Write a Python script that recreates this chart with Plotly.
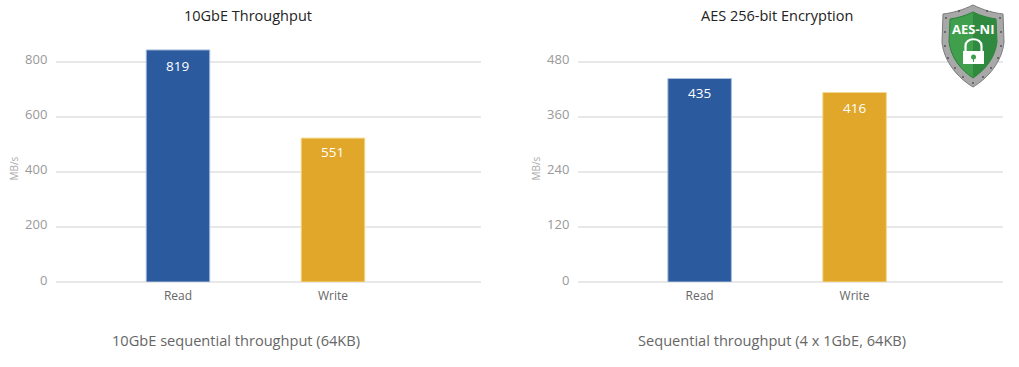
import plotly.graph_objects as go

W, H = 1019, 367
categories = ["Read", "Write"]
# Bar heights as drawn in the picture (the printed labels differ from the drawn heights)
tp_heights = [842, 522]
tp_labels = ["819", "551"]
aes_heights = [443, 412.5]
aes_labels = ["435", "416"]
tp_ticks = [0, 200, 400, 600, 800]
aes_ticks = [0, 120, 240, 360, 480]
colors = ["#2b5a9e", "#e0a72a"]
edges = ["#a9bfdc", "#f3d98f"]
FONT = "Open Sans"


def fx(x):
    return x / W


def fy(y):
    return 1 - y / H


def path(cmds):
    out = []
    for c in cmds:
        if isinstance(c, str):
            out.append(c)
        else:
            out.append(f"{fx(c[0]):.5f},{fy(c[1]):.5f}")
    return " ".join(out)


fig = go.Figure()
fig.add_trace(go.Bar(x=categories, y=tp_heights, marker=dict(color=colors, line=dict(color=edges, width=1)),
                     width=0.41, xaxis="x", yaxis="y", hoverinfo="skip"))
fig.add_trace(go.Bar(x=categories, y=aes_heights, marker=dict(color=colors, line=dict(color=edges, width=1)),
                     width=0.41, xaxis="x2", yaxis="y2", hoverinfo="skip"))

ann = []
for xa, ya, hs, ls, shifts in [("x", "y", tp_heights, tp_labels, [-16, -14]),
                               ("x2", "y2", aes_heights, aes_labels, [-14, -15])]:
    for c, h, l, s in zip(categories, hs, ls, shifts):
        ann.append(dict(x=c, y=h, xref=xa, yref=ya, text=l, showarrow=False, yshift=s,
                        font=dict(family=FONT, size=13.5, color="white")))


def txt(x, y, t, size, color, angle=0, family=FONT, weight=None):
    f = dict(family=family, size=size, color=color)
    if weight:
        f["weight"] = weight
    return dict(x=fx(x), y=fy(y), xref="paper", yref="paper", text=t, showarrow=False,
                xanchor="center", yanchor="middle", font=f, textangle=angle)


ann += [
    txt(247.5, 15, "10GbE Throughput", 14.5, "#222222"),
    txt(776.5, 15, "AES 256-bit Encryption", 14.5, "#222222"),
    txt(236, 340, "10GbE sequential throughput (64KB)", 14.6, "#666666"),
    txt(771.5, 340, "Sequential throughput (4 x 1GbE, 64KB)", 14.6, "#666666"),
    txt(14, 168.5, "MB/s", 10, "#aaaaaa", -90),
    txt(536, 168.5, "MB/s", 10, "#aaaaaa", -90),
    txt(973, 29, "AES-NI", 13, "white", weight="bold"),
]

# AES-NI badge
shapes = []
outer_path = path(["M", (973, 5), "C", (963, 10), (952, 13), (943, 14), "L", (942, 42), "C", (944, 62), (958, 78), (973, 87),
                   "C", (988, 78), (1002, 62), (1004, 42), "L", (1003, 14), "C", (994, 13), (983, 10), (973, 5), "Z"])
inner_path = path(["M", (973, 12), "C", (965, 16), (957, 18), (950, 19), "L", (949, 42), "C", (951, 58), (961, 70), (973, 78),
                   "C", (985, 70), (995, 58), (997, 42), "L", (996, 19), "C", (989, 18), (981, 16), (973, 12), "Z"])
right_path = path(["M", (973, 12), "C", (981, 16), (989, 18), (996, 19), "L", (997, 42), "C", (995, 58), (985, 70), (973, 78), "Z"])
shapes.append(dict(type="path", xref="paper", yref="paper", path=outer_path, fillcolor="#a8a8a8",
                   line=dict(color="#7a7a7a", width=1)))
shapes.append(dict(type="path", xref="paper", yref="paper", path=inner_path, fillcolor="#3f9f4c",
                   line=dict(color="#2f7f3c", width=1)))
shapes.append(dict(type="path", xref="paper", yref="paper", path=right_path, fillcolor="#2f8a40",
                   line=dict(width=0)))
rivets = [(946, 18), (945, 32), (945, 46), (948, 58), (955, 68), (963, 77), (973, 83), (983, 77), (991, 68),
          (998, 58), (1001, 46), (1001, 32), (1000, 18), (959, 11), (987, 11)]
for rx, ry in rivets:
    shapes.append(dict(type="circle", xref="paper", yref="paper", x0=fx(rx - 1), x1=fx(rx + 1), y0=fy(ry + 1), y1=fy(ry - 1),
                       fillcolor="#555555", line=dict(width=0)))
# lock
shapes.append(dict(type="path", xref="paper", yref="paper",
                   path=path(["M", (965.5, 51), "L", (965.5, 46), "C", (965.5, 37), (981.5, 37), (981.5, 46), "L", (981.5, 51)]),
                   line=dict(color="white", width=2.2), fillcolor="rgba(0,0,0,0)"))
shapes.append(dict(type="rect", xref="paper", yref="paper", x0=fx(963), x1=fx(984), y0=fy(64), y1=fy(51),
                   fillcolor="white", line=dict(width=0)))
shapes.append(dict(type="circle", xref="paper", yref="paper", x0=fx(971), x1=fx(976), y0=fy(59.5), y1=fy(54.5),
                   fillcolor="#3f9f4c", line=dict(width=0)))
shapes.append(dict(type="rect", xref="paper", yref="paper", x0=fx(973), x1=fx(974), y0=fy(62), y1=fy(58),
                   fillcolor="#3f9f4c", line=dict(width=0)))


def yaxis(ticks, top, anchor):
    return dict(domain=[fy(282), fy(40)], range=[0, top], tickvals=ticks, anchor=anchor, automargin=False,
                showgrid=True, gridcolor="#e8e8e8", gridwidth=1.5, zeroline=True, zerolinecolor="#e8e8e8",
                zerolinewidth=1.5, showline=False, ticks="outside", ticklen=5, tickcolor="rgba(0,0,0,0)",
                ticklabelshift=-2,
                tickfont=dict(family=FONT, size=13, color="#999999"), fixedrange=True)


def xaxis(x0, x1, anchor, left, right):
    return dict(domain=[fx(x0), fx(x1)], range=[left, right], anchor=anchor, showgrid=False, zeroline=False,
                automargin=False, showline=False, ticks="outside", ticklen=3, tickcolor="rgba(0,0,0,0)",
                tickfont=dict(family=FONT, size=12, color="#666666"), fixedrange=True,
                type="category", categoryorder="array", categoryarray=categories)


fig.update_layout(
    width=W, height=H, margin=dict(l=0, r=0, t=0, b=0), autosize=False, showlegend=False,
    paper_bgcolor="white", plot_bgcolor="white", font=dict(family=FONT),
    xaxis=xaxis(56, 481, "y", -0.787, 1.955),
    yaxis=yaxis(tp_ticks, 878, "x"),
    xaxis2=xaxis(578, 1003, "y2", -0.785, 1.958),
    yaxis2=yaxis(aes_ticks, 526.8, "x2"),
    annotations=ann, shapes=shapes,
)
fig.write_html("out.html", config={"displayModeBar": False},
               post_script="document.body.style.margin='0';document.body.style.overflow='hidden';")
